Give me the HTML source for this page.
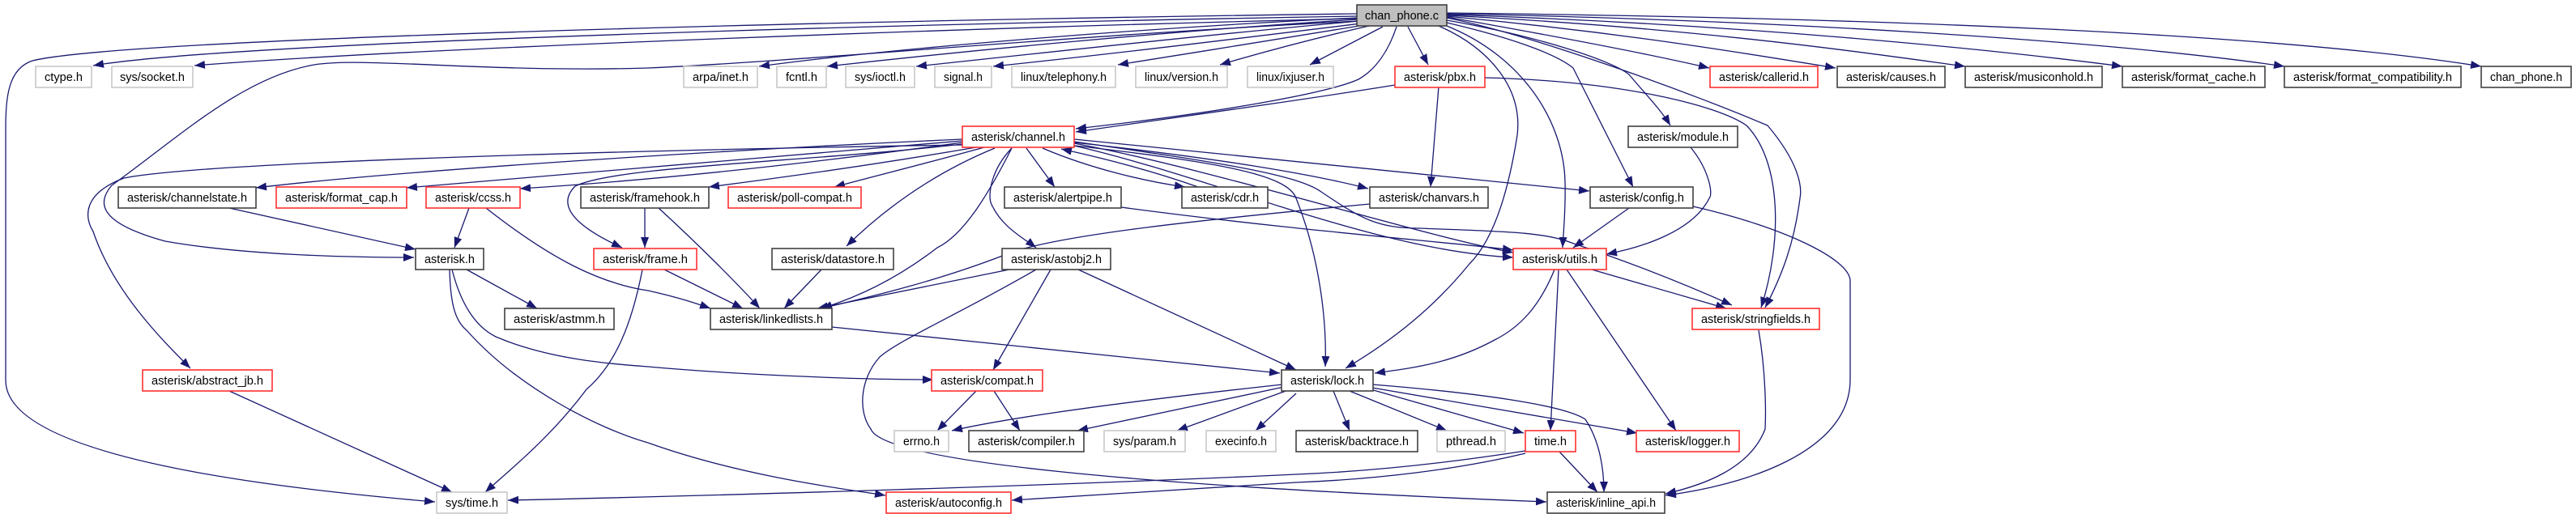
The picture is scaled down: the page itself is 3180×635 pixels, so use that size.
<!DOCTYPE html>
<html><head><meta charset="utf-8"><style>
html,body{margin:0;padding:0;background:#fff;}
svg{display:block;}
text{font-family:"Liberation Sans",sans-serif;font-size:15px;fill:#000;}
.e{fill:none;stroke:#191970;stroke-width:1.3;marker-end:url(#a);}
.n{fill:#fff;stroke-width:1.6;}
.k{stroke:#404040;}.r{stroke:#ff3030;}.g{stroke:#c8c8c8;}
</style></head><body>
<svg width="3180" height="635" viewBox="0 0 3180 635" xmlns="http://www.w3.org/2000/svg">
<defs><marker id="a" markerUnits="userSpaceOnUse" markerWidth="14" markerHeight="10" refX="13" refY="5" orient="auto"><path d="M0,0 L13,5 L0,10 z" fill="#191970"/></marker></defs>
<g>
<!-- chan_phone.c edges -->
<path class="e" d="M1675,20 C1200,28 300,50 115,81"/>
<path class="e" d="M1675,23 C1200,34 500,60 240,81"/>
<path class="e" d="M1675,17 C1000,26 150,48 40,75 C10,85 7,120 7,160 L7,470 C7,560 300,600 537,620"/>
<path class="e" d="M1678,26 C1300,45 1000,75 800,84 C600,90 450,70 388,80 C300,95 220,170 138,229 C120,250 120,275 204,298 C300,315 430,318 511,318"/>
<path class="e" d="M1676,22 C1400,35 1100,60 937,82"/>
<path class="e" d="M1677,24 C1450,38 1200,62 1021,82"/>
<path class="e" d="M1678,26 C1500,42 1300,64 1131,82"/>
<path class="e" d="M1680,29 C1550,45 1380,66 1226,82"/>
<path class="e" d="M1684,31 C1600,45 1480,64 1380,80"/>
<path class="e" d="M1690,32 C1620,48 1560,64 1506,80"/>
<path class="e" d="M1707,33 L1617,80"/>
<path class="e" d="M1738,33 L1763,80"/>
<path class="e" d="M1724,33 C1715,60 1700,85 1677,98 C1640,115 1500,140 1328,159"/>
<path class="e" d="M1722,105 C1600,125 1450,145 1328,163"/>
<path class="e" d="M1776,32 C1840,60 1880,110 1873,167 C1860,250 1840,300 1814,326 C1770,380 1720,420 1661,455"/>
<path class="e" d="M1786,32 C1880,70 1930,150 1932,224 C1933,260 1930,285 1929,306"/>
<path class="e" d="M1786,28 C1880,50 1925,70 1942,84 C1970,140 2000,200 2016,231"/>
<path class="e" d="M1786,25 C1900,45 1990,75 2011,92 C2030,115 2050,135 2062,155"/>
<path class="e" d="M1786,22 C1900,45 2100,120 2182,155 C2220,200 2225,230 2222,245 C2215,300 2200,340 2179,380"/>
<path class="e" d="M1786,21 C1950,50 2050,70 2110,84"/>
<path class="e" d="M1786,20 C2000,40 2150,65 2266,84"/>
<path class="e" d="M1786,19 C2100,35 2300,65 2426,82"/>
<path class="e" d="M1786,18 C2150,30 2450,60 2620,82"/>
<path class="e" d="M1786,17 C2200,25 2600,50 2820,82"/>
<path class="e" d="M1786,16 C2300,22 2800,40 3063,82"/>
<!-- pbx.h -->
<path class="e" d="M1776,107 L1766,231"/>
<path class="e" d="M1833,96 C2000,100 2120,130 2156,155 C2200,200 2200,300 2174,380"/>
<!-- channel.h -->
<path class="e" d="M1188,179 C800,185 250,200 153,220 C100,240 105,270 115,286 C140,360 200,420 235,455"/>
<path class="e" d="M1188,172 C900,185 500,210 316,232"/>
<path class="e" d="M1188,174 C1000,190 700,215 502,232"/>
<path class="e" d="M1188,176 C1050,195 850,220 642,233"/>
<path class="e" d="M1188,178 C1000,200 760,205 710,230 C690,250 700,275 768,306"/>
<path class="e" d="M1205,182 C1100,200 1000,215 875,231"/>
<path class="e" d="M1215,182 C1150,200 1090,215 1030,231"/>
<path class="e" d="M1228,183 C1150,215 1090,260 1045,304"/>
<path class="e" d="M1249,183 C1220,240 1190,290 1157,306 C1100,350 1050,370 1014,381"/>
<path class="e" d="M1249,183 C1223,210 1220,240 1223,250 C1235,280 1265,295 1279,306"/>
<path class="e" d="M1267,183 L1302,231"/>
<path class="e" d="M1287,183 C1350,210 1420,225 1463,231"/>
<path class="e" d="M1479,231 C1420,210 1360,195 1310,184"/>
<path class="e" d="M1326,176 C1500,195 1620,215 1689,233"/>
<path class="e" d="M1326,172 C1600,200 1850,225 1962,236"/>
<path class="e" d="M1326,177 C1500,210 1750,290 1868,312"/>
<path class="e" d="M1326,180 C1500,220 1700,310 1868,318"/>
<path class="e" d="M1327,180 C1500,200 1590,215 1600,245 C1630,320 1638,400 1636,453"/>
<path class="e" d="M1326,175 C1500,200 1600,215 1631,237 C1680,270 1700,282 1753,282 C1850,286 1906,286 1940,300 C2030,330 2100,360 2138,377"/>
<!-- ccss, channelstate, framehook, frame -->
<path class="e" d="M600,257 C680,320 740,350 800,359 C840,368 860,375 877,381"/>
<path class="e" d="M579,257 L561,306"/>
<path class="e" d="M283,257 L513,308"/>
<path class="e" d="M796,257 L796,306"/>
<path class="e" d="M813,257 C860,300 910,350 938,381"/>
<path class="e" d="M820,333 L917,381"/>
<path class="e" d="M793,333 C780,400 760,450 724,481 C680,540 630,580 599,608"/>
<!-- asterisk.h -->
<path class="e" d="M576,333 L663,381"/>
<path class="e" d="M558,333 C570,380 590,405 612,416 C680,445 760,450 800,453 C900,462 1050,469 1152,469"/>
<path class="e" d="M555,333 C556,370 560,395 576,408 C640,480 740,530 800,547 C920,590 1050,605 1093,612"/>
<path class="e" d="M283,483 L558,608"/>
<!-- datastore, astobj2 -->
<path class="e" d="M1014,333 L968,381"/>
<path class="e" d="M1246,333 L1009,381"/>
<path class="e" d="M1297,333 L1226,457"/>
<path class="e" d="M1331,333 L1600,457"/>
<path class="e" d="M1279,333 C1180,390 1110,420 1086,441 C1060,470 1060,510 1075,530 C1090,570 1400,600 1909,620"/>
<path class="e" d="M1384,256 C1600,285 1800,300 1868,309"/>
<path class="e" d="M1027,404 L1580,461"/>
<path class="e" d="M1691,252 C1500,270 1300,290 1240,315 C1150,350 1060,370 1014,381"/>
<!-- compat, lock -->
<path class="e" d="M1205,483 L1157,532"/>
<path class="e" d="M1227,483 L1259,532"/>
<path class="e" d="M1583,475 C1400,495 1250,515 1175,532"/>
<path class="e" d="M1585,478 L1330,532"/>
<path class="e" d="M1590,482 L1453,532"/>
<path class="e" d="M1600,486 L1550,532"/>
<path class="e" d="M1646,483 L1666,532"/>
<path class="e" d="M1666,483 L1786,532"/>
<path class="e" d="M1692,481 L1881,535"/>
<path class="e" d="M1694,479 L2021,535"/>
<path class="e" d="M1694,475 C1820,485 1930,500 1957,518 C1975,545 1980,580 1980,608"/>
<!-- utils -->
<path class="e" d="M1919,333 C1900,380 1875,405 1845,420 C1790,450 1740,455 1697,461"/>
<path class="e" d="M1924,333 L1914,532"/>
<path class="e" d="M1934,333 L2069,532"/>
<path class="e" d="M1965,333 L2131,381"/>
<path class="e" d="M2011,257 L1942,306"/>
<path class="e" d="M2090,255 C2200,280 2284,320 2284,347 L2284,469 C2284,560 2150,600 2056,612"/>
<path class="e" d="M2087,182 C2110,210 2115,240 2110,245 C2090,285 2030,305 1983,314"/>
<path class="e" d="M2171,408 C2180,460 2180,510 2179,530 C2160,580 2100,600 2056,610"/>
<path class="e" d="M1925,558 L1972,608"/>
<path class="e" d="M1883,557 C1800,570 1700,582 1600,586 C1300,600 900,612 627,618"/>
<path class="e" d="M1883,560 C1800,580 1700,592 1600,596 C1450,605 1300,614 1249,618"/>
</g>
<g>
<rect class="n k" x="1675" y="6" width="111" height="26" style="fill:#bfbfbf"/><text x="1685" y="24" textLength="91" lengthAdjust="spacingAndGlyphs">chan_phone.c</text>
<rect class="n g" x="44" y="82" width="69" height="26"/><text x="55" y="100" textLength="47" lengthAdjust="spacingAndGlyphs">ctype.h</text>
<rect class="n g" x="138" y="82" width="100" height="26"/><text x="148" y="100" textLength="80" lengthAdjust="spacingAndGlyphs">sys/socket.h</text>
<rect class="n g" x="844" y="82" width="91" height="26"/><text x="855" y="100" textLength="69" lengthAdjust="spacingAndGlyphs">arpa/inet.h</text>
<rect class="n g" x="959" y="82" width="61" height="26"/><text x="970" y="100" textLength="39" lengthAdjust="spacingAndGlyphs">fcntl.h</text>
<rect class="n g" x="1044" y="82" width="85" height="26"/><text x="1055" y="100" textLength="63" lengthAdjust="spacingAndGlyphs">sys/ioctl.h</text>
<rect class="n g" x="1154" y="82" width="70" height="26"/><text x="1165" y="100" textLength="48" lengthAdjust="spacingAndGlyphs">signal.h</text>
<rect class="n g" x="1249" y="82" width="128" height="26"/><text x="1260" y="100" textLength="106" lengthAdjust="spacingAndGlyphs">linux/telephony.h</text>
<rect class="n g" x="1402" y="82" width="113" height="26"/><text x="1413" y="100" textLength="91" lengthAdjust="spacingAndGlyphs">linux/version.h</text>
<rect class="n g" x="1540" y="82" width="106" height="26"/><text x="1551" y="100" textLength="84" lengthAdjust="spacingAndGlyphs">linux/ixjuser.h</text>
<rect class="n r" x="1722" y="82" width="111" height="26"/><text x="1733" y="100" textLength="89" lengthAdjust="spacingAndGlyphs">asterisk/pbx.h</text>
<rect class="n r" x="2111" y="82" width="133" height="26"/><text x="2122" y="100" textLength="111" lengthAdjust="spacingAndGlyphs">asterisk/callerid.h</text>
<rect class="n k" x="2268" y="82" width="133" height="26"/><text x="2279" y="100" textLength="111" lengthAdjust="spacingAndGlyphs">asterisk/causes.h</text>
<rect class="n k" x="2426" y="82" width="169" height="26"/><text x="2437" y="100" textLength="147" lengthAdjust="spacingAndGlyphs">asterisk/musiconhold.h</text>
<rect class="n k" x="2620" y="82" width="176" height="26"/><text x="2631" y="100" textLength="154" lengthAdjust="spacingAndGlyphs">asterisk/format_cache.h</text>
<rect class="n k" x="2820" y="82" width="218" height="26"/><text x="2831" y="100" textLength="196" lengthAdjust="spacingAndGlyphs">asterisk/format_compatibility.h</text>
<rect class="n k" x="3063" y="82" width="111" height="26"/><text x="3074" y="100" textLength="89" lengthAdjust="spacingAndGlyphs">chan_phone.h</text>
<rect class="n r" x="1188" y="156" width="138" height="26"/><text x="1199" y="174" textLength="116" lengthAdjust="spacingAndGlyphs">asterisk/channel.h</text>
<rect class="n k" x="2010" y="156" width="135" height="26"/><text x="2021" y="174" textLength="113" lengthAdjust="spacingAndGlyphs">asterisk/module.h</text>
<rect class="n k" x="146" y="231" width="170" height="26"/><text x="157" y="249" textLength="148" lengthAdjust="spacingAndGlyphs">asterisk/channelstate.h</text>
<rect class="n r" x="341" y="231" width="161" height="26"/><text x="352" y="249" textLength="139" lengthAdjust="spacingAndGlyphs">asterisk/format_cap.h</text>
<rect class="n r" x="526" y="231" width="116" height="26"/><text x="537" y="249" textLength="94" lengthAdjust="spacingAndGlyphs">asterisk/ccss.h</text>
<rect class="n k" x="717" y="231" width="158" height="26"/><text x="728" y="249" textLength="136" lengthAdjust="spacingAndGlyphs">asterisk/framehook.h</text>
<rect class="n r" x="899" y="231" width="164" height="26"/><text x="910" y="249" textLength="142" lengthAdjust="spacingAndGlyphs">asterisk/poll-compat.h</text>
<rect class="n k" x="1240" y="231" width="144" height="26"/><text x="1251" y="249" textLength="122" lengthAdjust="spacingAndGlyphs">asterisk/alertpipe.h</text>
<rect class="n k" x="1459" y="231" width="106" height="26"/><text x="1470" y="249" textLength="84" lengthAdjust="spacingAndGlyphs">asterisk/cdr.h</text>
<rect class="n k" x="1691" y="231" width="146" height="26"/><text x="1702" y="249" textLength="124" lengthAdjust="spacingAndGlyphs">asterisk/chanvars.h</text>
<rect class="n k" x="1963" y="231" width="127" height="26"/><text x="1974" y="249" textLength="105" lengthAdjust="spacingAndGlyphs">asterisk/config.h</text>
<rect class="n k" x="513" y="307" width="84" height="26"/><text x="524" y="325" textLength="62" lengthAdjust="spacingAndGlyphs">asterisk.h</text>
<rect class="n r" x="733" y="307" width="127" height="26"/><text x="744" y="325" textLength="105" lengthAdjust="spacingAndGlyphs">asterisk/frame.h</text>
<rect class="n k" x="953" y="307" width="150" height="26"/><text x="964" y="325" textLength="128" lengthAdjust="spacingAndGlyphs">asterisk/datastore.h</text>
<rect class="n k" x="1237" y="307" width="134" height="26"/><text x="1248" y="325" textLength="112" lengthAdjust="spacingAndGlyphs">asterisk/astobj2.h</text>
<rect class="n r" x="1868" y="307" width="115" height="26"/><text x="1879" y="325" textLength="93" lengthAdjust="spacingAndGlyphs">asterisk/utils.h</text>
<rect class="n k" x="623" y="381" width="135" height="26"/><text x="634" y="399" textLength="113" lengthAdjust="spacingAndGlyphs">asterisk/astmm.h</text>
<rect class="n k" x="877" y="381" width="150" height="26"/><text x="888" y="399" textLength="128" lengthAdjust="spacingAndGlyphs">asterisk/linkedlists.h</text>
<rect class="n r" x="2089" y="381" width="157" height="26"/><text x="2100" y="399" textLength="135" lengthAdjust="spacingAndGlyphs">asterisk/stringfields.h</text>
<rect class="n r" x="176" y="457" width="160" height="26"/><text x="187" y="475" textLength="138" lengthAdjust="spacingAndGlyphs">asterisk/abstract_jb.h</text>
<rect class="n r" x="1150" y="457" width="137" height="26"/><text x="1161" y="475" textLength="115" lengthAdjust="spacingAndGlyphs">asterisk/compat.h</text>
<rect class="n k" x="1582" y="457" width="113" height="26"/><text x="1593" y="475" textLength="91" lengthAdjust="spacingAndGlyphs">asterisk/lock.h</text>
<rect class="n g" x="1104" y="532" width="67" height="26"/><text x="1115" y="550" textLength="45" lengthAdjust="spacingAndGlyphs">errno.h</text>
<rect class="n k" x="1196" y="532" width="142" height="26"/><text x="1207" y="550" textLength="120" lengthAdjust="spacingAndGlyphs">asterisk/compiler.h</text>
<rect class="n g" x="1363" y="532" width="100" height="26"/><text x="1374" y="550" textLength="78" lengthAdjust="spacingAndGlyphs">sys/param.h</text>
<rect class="n g" x="1489" y="532" width="86" height="26"/><text x="1500" y="550" textLength="64" lengthAdjust="spacingAndGlyphs">execinfo.h</text>
<rect class="n k" x="1600" y="532" width="150" height="26"/><text x="1611" y="550" textLength="128" lengthAdjust="spacingAndGlyphs">asterisk/backtrace.h</text>
<rect class="n g" x="1774" y="532" width="84" height="26"/><text x="1785" y="550" textLength="62" lengthAdjust="spacingAndGlyphs">pthread.h</text>
<rect class="n r" x="1883" y="532" width="62" height="26"/><text x="1894" y="550" textLength="40" lengthAdjust="spacingAndGlyphs">time.h</text>
<rect class="n r" x="2020" y="532" width="127" height="26"/><text x="2031" y="550" textLength="105" lengthAdjust="spacingAndGlyphs">asterisk/logger.h</text>
<rect class="n g" x="539" y="608" width="87" height="26"/><text x="550" y="626" textLength="65" lengthAdjust="spacingAndGlyphs">sys/time.h</text>
<rect class="n r" x="1094" y="608" width="154" height="26"/><text x="1105" y="626" textLength="132" lengthAdjust="spacingAndGlyphs">asterisk/autoconfig.h</text>
<rect class="n k" x="1910" y="608" width="145" height="26"/><text x="1921" y="626" textLength="123" lengthAdjust="spacingAndGlyphs">asterisk/inline_api.h</text>
</g>
</svg>
</body></html>
